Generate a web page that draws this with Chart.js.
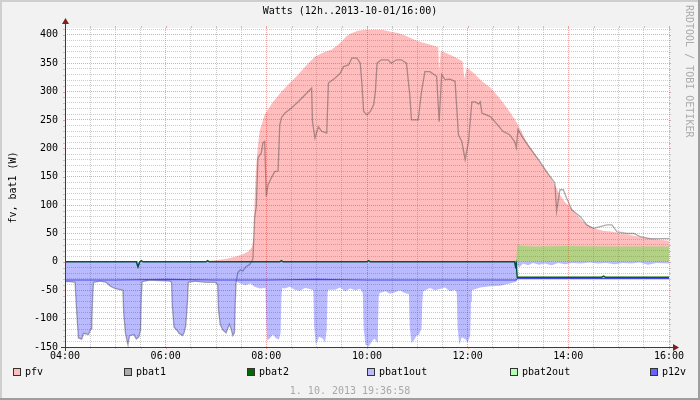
<!DOCTYPE html>
<html><head><meta charset="utf-8">
<script src="https://cdn.jsdelivr.net/npm/chart.js@4.4.1/dist/chart.umd.min.js"></script>
<style>
html,body{margin:0;padding:0;background:#F2F2F2;}
canvas{display:block;}
</style></head><body>
<canvas id="c" width="700" height="400"></canvas>
<script>
// ---- data (x = minutes after 04:00, y = watts) ----
const chartTitle = 'Watts (12h..2013-10-01/16:00)';
const yTitle = 'fv, bat1 (W)';
const stamp = '1. 10. 2013 19:36:58';
const hourLabels = ['04:00','06:00','08:00','10:00','12:00','14:00','16:00'];
const seriesNames = ['pfv','pbat1','pbat2','pbat1out','pbat2out','p12v'];

const pfvT = [0,149,167,179,191,203,211,218,223,225,226,228,230,232,238,247,258,268,278,287,298,310,318,325,330,335,340,349,358,378,387,397,407,417,427,437,445,446,448,459,466,474,476,479,489,497,507,516,527,533,538,544,550,558,566,575,582,590,596,602,609,617,629,641,653,670,681,693,709,720];
const pfvW = [0,0,1,3,5,9,13,18,26,45,110,171,205,230,259,280,300,315,330,345,362,370,374,382,388,397,402,407,409,409,406,403,398,391,386,382,378,335,372,365,360,353,322,343,330,318,307,292,271,258,247,230,212,195,177,158,141,118,105,97,85,71,60,55,53,48,45,42,39,37];

const pbat1T = [0,6,12,13,14,16,20,22,28,31,32,33,34,42,49,54,60,66,69,70,72,74,75,77,82,85,88,90,91,92,101,113,125,127,128,130,133,136,140,142,144,146,147,155,167,179,182,183,185,188,192,196,198,200,202,203,204,
 206,209,212,216,220,224,226,228,230,234,236,238,240,242,246,250,254,256,258,262,270,278,286,294,295,298,302,306,312,314,322,328,332,338,342,348,352,354,356,360,364,368,370,372,377,385,389,395,401,407,411,413,421,425,429,435,443,446,449,453,459,465,469,473,477,481,485,489,493,495,497,507,516,522,530,536,538,540,546,554,566,574,584,586,590,594,598,604,614,622,630,638,646,652,658,670,678,685,697,720];
const pbat1W = [-35,-35,-36,-36,-90,-134,-136,-126,-128,-118,-105,-60,-36,-34,-36,-43,-47,-49,-50,-90,-125,-140,-146,-130,-128,-136,-132,-120,-60,-35,-32,-33,-34,-36,-80,-115,-120,-126,-130,-125,-112,-70,-36,-34,-36,-36,-40,-85,-110,-120,-125,-110,-118,-130,-125,-70,-35,
 -19,-14,-16,-8,-5,5,78,97,183,192,210,212,115,136,148,159,160,241,254,262,271,282,294,306,247,218,238,230,227,315,324,332,344,347,359,359,350,312,265,259,265,277,300,350,356,356,350,356,356,350,294,250,250,300,335,335,327,247,330,321,322,318,224,212,180,212,282,282,278,282,262,256,241,230,224,212,201,233,218,201,177,159,139,89,127,127,112,92,80,65,59,62,65,65,53,50,50,45,41,41];

const pbat2T = [0,85,87,89,91,93,168,170,172,256,258,260,360,362,364,536,537,538,539,640,642,644,720];
const pbat2W = [0,0,-9,0,2,0,0,2,0,0,2,0,0,2,0,0,-8,-3,-27,-27,-25,-27,-27];

const pbat1outT = [0,6,12,13,14,16,20,22,28,31,32,33,34,42,49,54,60,66,69,70,72,74,75,77,82,85,88,90,91,92,101,113,125,127,128,130,133,136,140,142,144,146,147,155,167,179,182,183,185,188,192,196,198,200,202,203,204,
 209,215,221,226,232,239,240,241,244,248,251,255,257,258,259,262,268,274,280,286,292,296,297,299,303,307,310,312,313,314,322,328,334,340,346,352,355,356,358,362,366,369,372,373,374,375,382,387,393,399,405,410,411,413,416,419,422,425,426,427,435,441,447,453,459,465,467,468,470,473,477,480,483,484,485,495,507,519,530,538,539,542,546,552,558,565,572,580,588,596,605,615,625,635,645,655,665,675,685,695,705,720];
const pbat1outW = [-35,-35,-36,-36,-90,-134,-136,-126,-128,-118,-105,-60,-36,-34,-36,-43,-47,-49,-50,-90,-125,-140,-146,-130,-128,-136,-132,-120,-60,-35,-32,-33,-34,-36,-80,-115,-120,-126,-130,-125,-112,-70,-36,-34,-36,-36,-40,-85,-110,-120,-125,-110,-118,-130,-125,-70,-35,
 -38,-41,-38,-44,-47,-46,-110,-138,-135,-128,-134,-137,-125,-60,-46,-47,-44,-49,-51,-46,-48,-50,-115,-146,-132,-135,-142,-120,-55,-49,-49,-45,-52,-47,-50,-48,-55,-115,-146,-149,-140,-135,-142,-120,-60,-55,-52,-56,-54,-50,-55,-57,-115,-143,-138,-130,-128,-118,-70,-52,-46,-50,-48,-45,-52,-49,-55,-115,-146,-133,-136,-142,-130,-70,-50,-45,-43,-42,-38,-35,-6,-9,-3,-6,-2,-5,-3,-6,-2,-4,-2,-3,-1,-3,-2,-4,-2,-3,-1,-5,-2,-3];

const pbat2outT = [0,538,539,542,546,560,600,640,680,720];
const pbat2outW = [0,0,31,29,28,27,28,27,27,27];

const p12vT = [0,60,120,180,240,300,360,420,480,538,539,600,660,720];
const p12vW = [-32,-32,-31,-32,-32,-31,-32,-32,-32,-32,-29.5,-29.5,-29.5,-29.5];

// ---- styles ----
const FONT = '"DejaVu Sans Mono", monospace';
Chart.defaults.font.family = FONT;
Chart.defaults.font.size = 10;
const legendFill = ['rgba(255,0,0,0.26)','rgba(0,0,0,0.33)','#006A00','rgba(0,0,255,0.27)','rgba(0,255,0,0.3)','rgb(100,100,250)'];
const legendX = [13,124,247,367,510,650];
const GRID = 'rgba(143,143,143,0.45)';
const MGRID = 'rgba(222,79,79,0.5)';
const AXIS = 'rgb(128,31,31)';

const mk = (T, W) => T.map((t, i) => ({x: t, y: W[i]}));

const deco = {
  id: 'deco',
  beforeDraw(chart) {
    const {ctx, chartArea: a} = chart;
    ctx.save();
    ctx.fillStyle = '#F2F2F2'; ctx.fillRect(0, 0, 700, 400);
    ctx.fillStyle = '#CFCFCF'; ctx.fillRect(0, 0, 700, 2); ctx.fillRect(0, 0, 2, 400);
    ctx.fillStyle = '#9E9E9E'; ctx.fillRect(0, 398, 700, 2); ctx.fillRect(698, 0, 2, 400);
    ctx.fillStyle = '#FFFFFF'; ctx.fillRect(a.left, a.top, a.right - a.left, a.bottom - a.top);
    ctx.restore();
  },
  afterDraw(chart) {
    const {ctx, chartArea: a, scales} = chart;
    const xs = scales.x, ys = scales.y;
    ctx.save();
    ctx.lineWidth = 1;
    xs.ticks.forEach(t => {
      const px = Math.round(xs.getPixelForValue(t.value)) + 0.5;
      ctx.strokeStyle = t.value % 120 === 0 ? MGRID : GRID;
      ctx.beginPath();
      ctx.moveTo(px, a.top - 2); ctx.lineTo(px, a.top);
      ctx.moveTo(px, a.bottom); ctx.lineTo(px, a.bottom + 2);
      ctx.stroke();
    });
    ys.ticks.forEach(t => {
      const py = Math.round(ys.getPixelForValue(t.value)) + 0.5;
      ctx.strokeStyle = Math.round(t.value) % 50 === 0 ? MGRID : GRID;
      ctx.beginPath();
      ctx.moveTo(a.left - 2, py); ctx.lineTo(a.left, py);
      ctx.moveTo(a.right, py); ctx.lineTo(a.right + 2, py);
      ctx.stroke();
    });
    const x0 = Math.round(a.left) + 0.5, y0 = Math.round(a.bottom) + 0.5;
    ctx.strokeStyle = AXIS;
    ctx.beginPath();
    ctx.moveTo(a.left - 4, y0); ctx.lineTo(a.right + 4, y0);
    ctx.moveTo(x0, a.bottom + 4); ctx.lineTo(x0, a.top - 4);
    ctx.stroke();
    ctx.fillStyle = AXIS;
    ctx.beginPath();
    ctx.moveTo(a.right + 4, y0 - 3.5); ctx.lineTo(a.right + 4, y0 + 3.5); ctx.lineTo(a.right + 10, y0); ctx.closePath(); ctx.fill();
    ctx.beginPath();
    ctx.moveTo(x0 - 3.5, a.top - 4); ctx.lineTo(x0 + 3.5, a.top - 4); ctx.lineTo(x0, a.top - 10); ctx.closePath(); ctx.fill();
    ctx.font = '10px ' + FONT;
    ctx.fillStyle = '#000';
    ctx.textAlign = 'center'; ctx.textBaseline = 'middle';
    ctx.fillText(chartTitle, 350, 11);
    ctx.save();
    ctx.translate(13, (a.top + a.bottom) / 2);
    ctx.rotate(-Math.PI / 2);
    ctx.fillText(yTitle, 0, 0);
    ctx.restore();
    ctx.save();
    ctx.fillStyle = '#ABABAB';
    ctx.translate(689, 5);
    ctx.rotate(Math.PI / 2);
    ctx.textAlign = 'left';
    ctx.fillText('RRDTOOL / TOBI OETIKER', 0, 0);
    ctx.restore();
    ctx.fillStyle = '#A8A8A8';
    ctx.fillText(stamp, 350, 391);
    ctx.textAlign = 'left';
    seriesNames.forEach((n, i) => {
      const bx = legendX[i];
      ctx.fillStyle = '#FFFFFF';
      ctx.fillRect(bx, 368, 8, 8);
      ctx.fillStyle = legendFill[i];
      ctx.fillRect(bx, 368, 8, 8);
      ctx.strokeStyle = '#333';
      ctx.strokeRect(bx + 0.5, 368.5, 7, 7);
      ctx.fillStyle = '#000';
      ctx.fillText(n, bx + 12, 372);
    });
    ctx.restore();
  }
};

new Chart(document.getElementById('c'), {
  type: 'line',
  data: {
    datasets: [
      {label: seriesNames[0], data: mk(pfvT, pfvW), fill: 'origin', backgroundColor: 'rgba(255,0,0,0.26)', borderWidth: 0, order: 6},
      {label: seriesNames[1], data: mk(pbat1T, pbat1W), fill: false, borderColor: 'rgba(60,60,60,0.42)', borderWidth: 1.3, order: 5},
      {label: seriesNames[2], data: mk(pbat2T, pbat2W), fill: false, borderColor: '#006A00', borderWidth: 1.5, order: 4},
      {label: seriesNames[3], data: mk(pbat1outT, pbat1outW), fill: 'origin', backgroundColor: 'rgba(0,0,255,0.27)', borderWidth: 0, order: 3},
      {label: seriesNames[4], data: mk(pbat2outT, pbat2outW), fill: 'origin', backgroundColor: 'rgba(0,255,0,0.3)', borderWidth: 0, order: 2},
      {label: seriesNames[5], data: mk(p12vT, p12vW), fill: false, borderColor: 'rgb(70,70,235)', borderWidth: 1.2, order: 1}
    ]
  },
  options: {
    responsive: false, animation: false, devicePixelRatio: 1,
    elements: {point: {radius: 0, hoverRadius: 0}, line: {tension: 0}},
    layout: {padding: {left: 0, right: 31, top: 28, bottom: 0}},
    plugins: {legend: {display: false}, tooltip: {enabled: false}, title: {display: false}},
    events: [],
    scales: {
      x: {
        type: 'linear', min: 0, max: 720,
        ticks: {stepSize: 30, autoSkip: false, maxRotation: 0, padding: 3, color: '#000',
          callback: v => (v % 120 === 0 ? hourLabels[v / 120] : '')},
        grid: {color: c => (c.tick && c.tick.value % 120 === 0 ? MGRID : GRID), lineWidth: 1, drawTicks: false},
        border: {display: false, dash: [1, 1]},
        afterFit: s => { s.height = 53; }
      },
      y: {
        type: 'linear', min: -150, max: 412,
        ticks: {stepSize: 10, includeBounds: false, autoSkip: false, padding: 7, color: '#000',
          callback: v => (Math.round(v) % 50 === 0 ? String(v) : '')},
        grid: {color: c => (c.tick && Math.round(c.tick.value) % 50 === 0 ? MGRID : GRID), lineWidth: 1, drawTicks: false},
        border: {display: false, dash: [1, 1]},
        afterFit: s => { s.width = 65; }
      }
    }
  },
  plugins: [deco]
});
</script>
</body></html>
